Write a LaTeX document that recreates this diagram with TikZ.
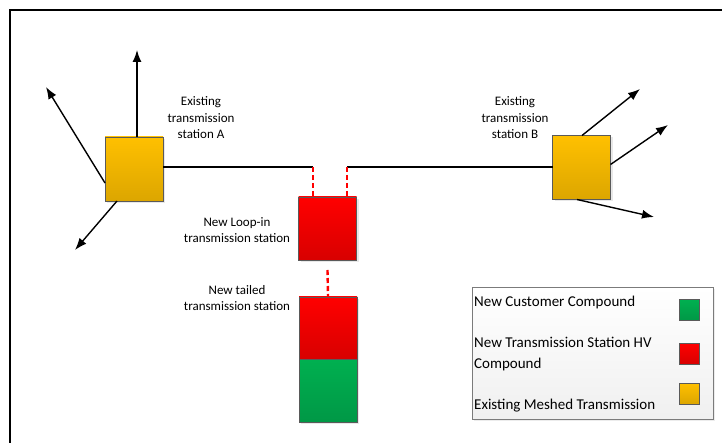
\documentclass[tikz,border=0pt]{standalone}
\usepackage{fontspec}
\setmainfont{Carlito}
\usetikzlibrary{arrows.meta,shadows}

\definecolor{ambertop}{HTML}{FFC000}
\definecolor{amberbot}{HTML}{DCA600}
\definecolor{redtop}{HTML}{FF0000}
\definecolor{redbot}{HTML}{D80000}
\definecolor{greentop}{HTML}{00B050}
\definecolor{greenbot}{HTML}{009846}
\definecolor{edgegray}{HTML}{5A5A5A}

\tikzset{
  station/.style={draw=edgegray, line width=0.9pt, inner sep=0pt, outer sep=0pt,
    drop shadow={shadow xshift=2pt, shadow yshift=-2pt, opacity=0.18}},
  existing/.style={station, top color=ambertop, bottom color=amberbot,
    minimum width=58pt, minimum height=64pt},
  hvbox/.style={station, top color=redtop, bottom color=redbot,
    minimum width=58pt, minimum height=63pt},
  custbox/.style={station, top color=greentop, bottom color=greenbot,
    minimum width=58pt, minimum height=63pt},
  swatch/.style={draw=edgegray, line width=0.8pt, inner sep=0pt,
    minimum width=20pt, minimum height=21pt},
  lbl/.style={align=center, inner sep=0pt, font=\fontsize{13}{16.5}\selectfont},
  legtext/.style={align=left, anchor=west, inner sep=0pt, font=\fontsize{15}{21}\selectfont},
  feeder/.style={line width=1.4pt, -{Latex[length=12pt,width=9pt]}},
  busline/.style={line width=1.4pt},
  tie/.style={draw=red, line width=2.4pt, dash pattern=on 5pt off 3pt},
}

\begin{document}
\begin{tikzpicture}[x=1pt,y=-1pt]
\useasboundingbox (0,0) rectangle (722,443);

% outer frame (top and left edges)
\draw[line width=2pt] (722,10) -- (10,10) -- (10,443);

% existing stations
\node[existing] (stA) at (134,169) {};
\node[existing] (stB) at (581.5,167.5) {};

% loop-in station and tailed station
\node[hvbox] (loop) at (327.5,228.5) {};
\node[hvbox, minimum height=62pt] (tailhv) at (328,328) {};
\node[custbox, anchor=north] (tailcust) at (tailhv.south) {};

% line break points above the loop-in station
\coordinate (gapL) at (313,167);
\coordinate (gapR) at (347,167);

% circuit from A to B, opened for the loop-in
\draw[busline] (stA.east |- gapL) -- (gapL);
\draw[busline] (gapR) -- (stB.west |- gapR);
\draw[tie] (gapL) -- (gapL |- loop.north);
\draw[tie] (gapR) -- (gapR |- loop.north);
\draw[tie] ([yshift=-10pt]loop.south) -- (tailhv.north);

% outgoing circuits of station A
\coordinate (aUp) at (137,50);
\coordinate (aUL) at (46,87);
\coordinate (aDL) at (75,250);
\draw[feeder] (stA.north -| aUp) -- (aUp);
\draw[feeder] ([yshift=-14pt]stA.west) -- (aUL);
\draw[feeder] ([xshift=-17pt]stA.south) -- (aDL);

% outgoing circuits of station B
\coordinate (bUp) at (640,89);
\coordinate (bMid) at (668,125);
\coordinate (bDn) at (654,217);
\draw[feeder] ([xshift=0.5pt]stB.north) -- (bUp);
\draw[feeder] ([yshift=3pt]stB.east) -- (bMid);
\draw[feeder] ([xshift=-4.5pt]stB.south) -- (bDn);

% station labels
\node[lbl] (labA) at (201,118) {Existing\\transmission\\station A};
\node[lbl] (labB) at (515,118) {Existing\\transmission\\station B};
\node[lbl] (labLoop) at (237,230) {New Loop-in\\transmission station};
\node[lbl] (labTail) at (237,298) {New tailed\\transmission station};

% legend
\node[draw=edgegray!80, line width=0.8pt, top color=white, bottom color=black!6,
  minimum width=241pt, minimum height=132pt, inner sep=0pt,
  drop shadow={shadow xshift=2pt, shadow yshift=-2pt, opacity=0.15}]
  (legend) at (592.5,353) {};
\node[legtext] (legC) at (474,303) {New Customer Compound};
\node[legtext] (legH) at (474,354.5) {New Transmission Station HV\\Compound};
\node[legtext] (legE) at (474,406) {Existing Meshed Transmission};
\node[swatch, top color=greentop, bottom color=greenbot] (swC) at (689,310) {};
\node[swatch, top color=redtop, bottom color=redbot] (swH) at (689,353.5) {};
\node[swatch, top color=ambertop, bottom color=amberbot] (swE) at (689,393.5) {};
\end{tikzpicture}
\end{document}
